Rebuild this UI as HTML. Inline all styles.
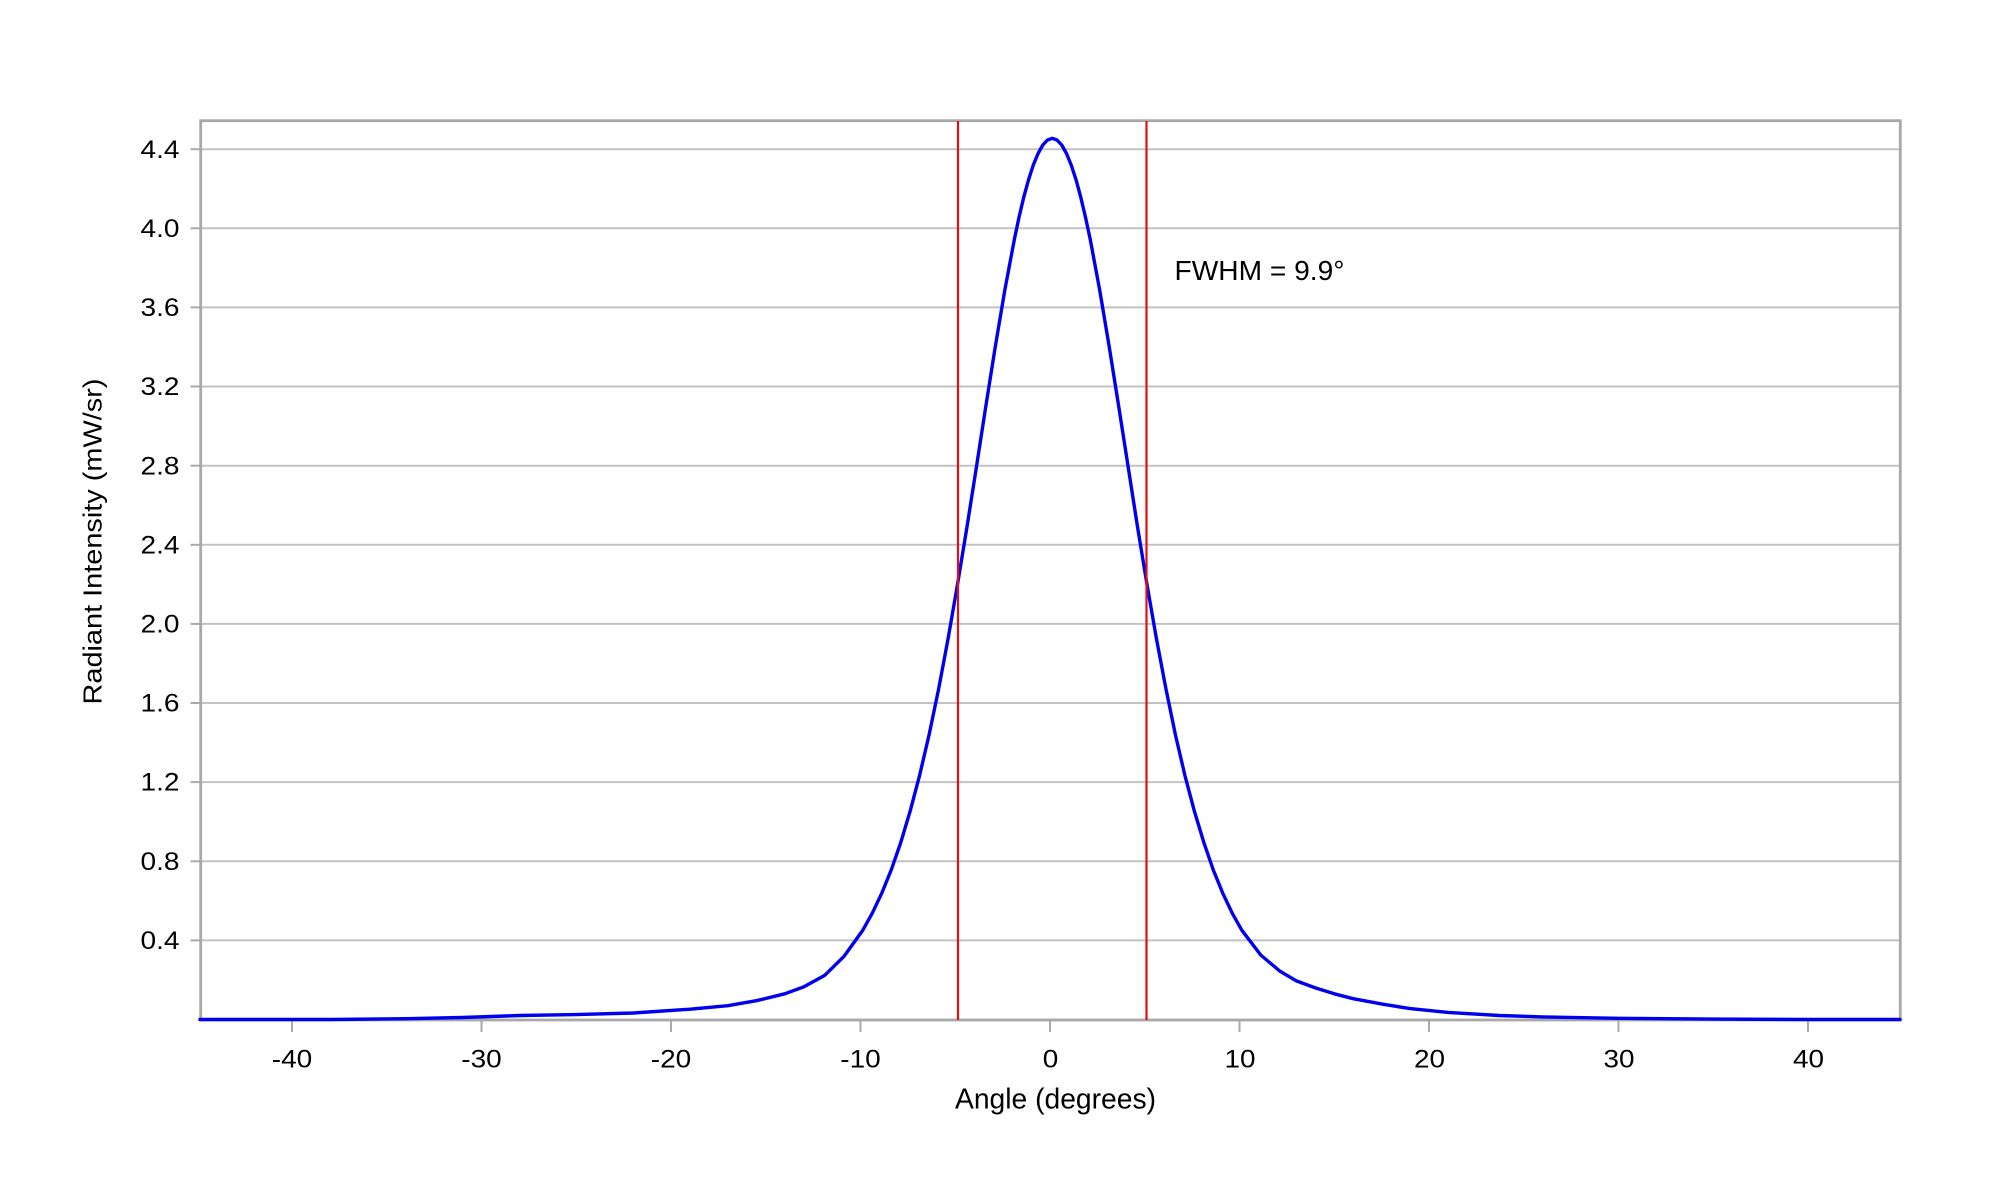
<!DOCTYPE html>
<html>
<head>
<meta charset="utf-8">
<style>
  html, body { margin: 0; padding: 0; background: #ffffff; }
  svg { display: block; }
  text { font-family: "Liberation Sans", Arial, sans-serif; fill: #000000; }
</style>
</head>
<body>
<svg width="2000" height="1200" viewBox="0 0 2000 1200" xmlns="http://www.w3.org/2000/svg">
  <rect x="0" y="0" width="2000" height="1200" fill="#ffffff"/>

  <!-- horizontal gridlines -->
  <g stroke="#c2c2c2" stroke-width="2">
    <line x1="200" y1="940.4" x2="1900" y2="940.4"/>
    <line x1="200" y1="861.3" x2="1900" y2="861.3"/>
    <line x1="200" y1="782.1" x2="1900" y2="782.1"/>
    <line x1="200" y1="703.0" x2="1900" y2="703.0"/>
    <line x1="200" y1="623.9" x2="1900" y2="623.9"/>
    <line x1="200" y1="544.8" x2="1900" y2="544.8"/>
    <line x1="200" y1="465.7" x2="1900" y2="465.7"/>
    <line x1="200" y1="386.5" x2="1900" y2="386.5"/>
    <line x1="200" y1="307.4" x2="1900" y2="307.4"/>
    <line x1="200" y1="228.3" x2="1900" y2="228.3"/>
    <line x1="200" y1="149.2" x2="1900" y2="149.2"/>
  </g>

  <!-- y ticks -->
  <g stroke="#aaaaaa" stroke-width="2">
    <line x1="190.5" y1="940.4" x2="200" y2="940.4"/>
    <line x1="190.5" y1="861.3" x2="200" y2="861.3"/>
    <line x1="190.5" y1="782.1" x2="200" y2="782.1"/>
    <line x1="190.5" y1="703.0" x2="200" y2="703.0"/>
    <line x1="190.5" y1="623.9" x2="200" y2="623.9"/>
    <line x1="190.5" y1="544.8" x2="200" y2="544.8"/>
    <line x1="190.5" y1="465.7" x2="200" y2="465.7"/>
    <line x1="190.5" y1="386.5" x2="200" y2="386.5"/>
    <line x1="190.5" y1="307.4" x2="200" y2="307.4"/>
    <line x1="190.5" y1="228.3" x2="200" y2="228.3"/>
    <line x1="190.5" y1="149.2" x2="200" y2="149.2"/>
  </g>

  <!-- x ticks -->
  <g stroke="#aaaaaa" stroke-width="2">
    <line x1="292" y1="1020" x2="292" y2="1032"/>
    <line x1="481.5" y1="1020" x2="481.5" y2="1032"/>
    <line x1="671" y1="1020" x2="671" y2="1032"/>
    <line x1="860.5" y1="1020" x2="860.5" y2="1032"/>
    <line x1="1050" y1="1020" x2="1050" y2="1032"/>
    <line x1="1239.5" y1="1020" x2="1239.5" y2="1032"/>
    <line x1="1429" y1="1020" x2="1429" y2="1032"/>
    <line x1="1618.5" y1="1020" x2="1618.5" y2="1032"/>
    <line x1="1808" y1="1020" x2="1808" y2="1032"/>
  </g>

  <!-- plot frame -->
  <rect x="200.7" y="120.7" width="1699.6" height="899.3" fill="none" stroke="#a8a8a8" stroke-width="2.8"/>

  <!-- curve -->
  <polyline fill="none" stroke="#0000ee" stroke-width="3.4" stroke-linejoin="round" stroke-linecap="round"
    points="200,1019.5 329.9,1019.5 405.7,1018.7 462.5,1017.5 519.4,1015.5 576.3,1014.6 633.1,1013.0 690.0,1009.2 727.8,1005.7 756.3,1000.7 784.7,993.8 803.7,986.9 824.9,975.2 843.8,956.6 862.8,930.2 872.2,913.3 881.7,893.3 891.2,870.0 900.7,842.7 910.1,811.3 919.6,775.4 929.1,734.7 938.6,689.2 948.0,639.1 957.5,584.5 967.0,526.8 976.5,466.5 985.9,405.7 995.4,346.0 1004.9,289.6 1014.4,239.2 1019.1,216.9 1023.8,197.0 1028.6,179.6 1033.3,165.0 1038.1,153.5 1042.8,145.0 1047.5,140.0 1052.3,138.3 1057.0,140.0 1061.7,145.0 1066.5,153.5 1071.2,165.0 1076.0,179.6 1080.7,197.0 1085.4,216.9 1090.2,239.2 1099.6,289.6 1109.1,346.0 1118.6,405.7 1128.1,466.5 1137.5,526.8 1147.0,584.5 1156.5,639.1 1166.0,689.2 1175.4,734.7 1184.9,775.4 1194.4,811.3 1203.9,842.7 1213.3,870.0 1222.8,893.3 1232.3,913.3 1241.8,930.2 1260.7,955.0 1279.7,971.0 1296.4,980.9 1315.3,987.9 1334.3,993.8 1353.2,998.7 1383.5,1004.3 1410.1,1008.6 1448.0,1012.4 1499.1,1015.5 1542.7,1016.9 1618.5,1018.3 1713.3,1019.1 1808,1019.5 1900,1019.5"/>

  <!-- FWHM markers -->
  <g stroke="#e01010" stroke-width="2.2">
    <line x1="958" y1="121" x2="958" y2="1020"/>
    <line x1="1146.5" y1="121" x2="1146.5" y2="1020"/>
  </g>

  <!-- y tick labels -->
  <g font-size="25" text-anchor="end">
    <text x="179.5" y="949.0" textLength="39" lengthAdjust="spacingAndGlyphs">0.4</text>
    <text x="179.5" y="869.9" textLength="39" lengthAdjust="spacingAndGlyphs">0.8</text>
    <text x="179.5" y="790.7" textLength="39" lengthAdjust="spacingAndGlyphs">1.2</text>
    <text x="179.5" y="711.6" textLength="39" lengthAdjust="spacingAndGlyphs">1.6</text>
    <text x="179.5" y="632.5" textLength="39" lengthAdjust="spacingAndGlyphs">2.0</text>
    <text x="179.5" y="553.4" textLength="39" lengthAdjust="spacingAndGlyphs">2.4</text>
    <text x="179.5" y="474.3" textLength="39" lengthAdjust="spacingAndGlyphs">2.8</text>
    <text x="179.5" y="395.1" textLength="39" lengthAdjust="spacingAndGlyphs">3.2</text>
    <text x="179.5" y="316.0" textLength="39" lengthAdjust="spacingAndGlyphs">3.6</text>
    <text x="179.5" y="236.9" textLength="39" lengthAdjust="spacingAndGlyphs">4.0</text>
    <text x="179.5" y="157.8" textLength="39" lengthAdjust="spacingAndGlyphs">4.4</text>
  </g>

  <!-- x tick labels -->
  <g font-size="25" text-anchor="middle">
    <text x="292" y="1067.5" textLength="40.5" lengthAdjust="spacingAndGlyphs">-40</text>
    <text x="481.5" y="1067.5" textLength="40.5" lengthAdjust="spacingAndGlyphs">-30</text>
    <text x="671" y="1067.5" textLength="40.5" lengthAdjust="spacingAndGlyphs">-20</text>
    <text x="860.5" y="1067.5" textLength="40.5" lengthAdjust="spacingAndGlyphs">-10</text>
    <text x="1050.5" y="1067.5" textLength="15.5" lengthAdjust="spacingAndGlyphs">0</text>
    <text x="1240" y="1067.5" textLength="31" lengthAdjust="spacingAndGlyphs">10</text>
    <text x="1429.5" y="1067.5" textLength="31" lengthAdjust="spacingAndGlyphs">20</text>
    <text x="1619" y="1067.5" textLength="31" lengthAdjust="spacingAndGlyphs">30</text>
    <text x="1808.5" y="1067.5" textLength="31" lengthAdjust="spacingAndGlyphs">40</text>
  </g>

  <!-- axis titles -->
  <text x="1055.5" y="1108.3" font-size="28.5" text-anchor="middle" textLength="201" lengthAdjust="spacingAndGlyphs">Angle (degrees)</text>
  <text transform="translate(101.5,541.5) rotate(-90)" font-size="26" text-anchor="middle" textLength="326" lengthAdjust="spacingAndGlyphs">Radiant Intensity (mW/sr)</text>

  <!-- annotation -->
  <text x="1174.5" y="280" font-size="28" textLength="170" lengthAdjust="spacingAndGlyphs">FWHM = 9.9°</text>
</svg>
</body>
</html>
